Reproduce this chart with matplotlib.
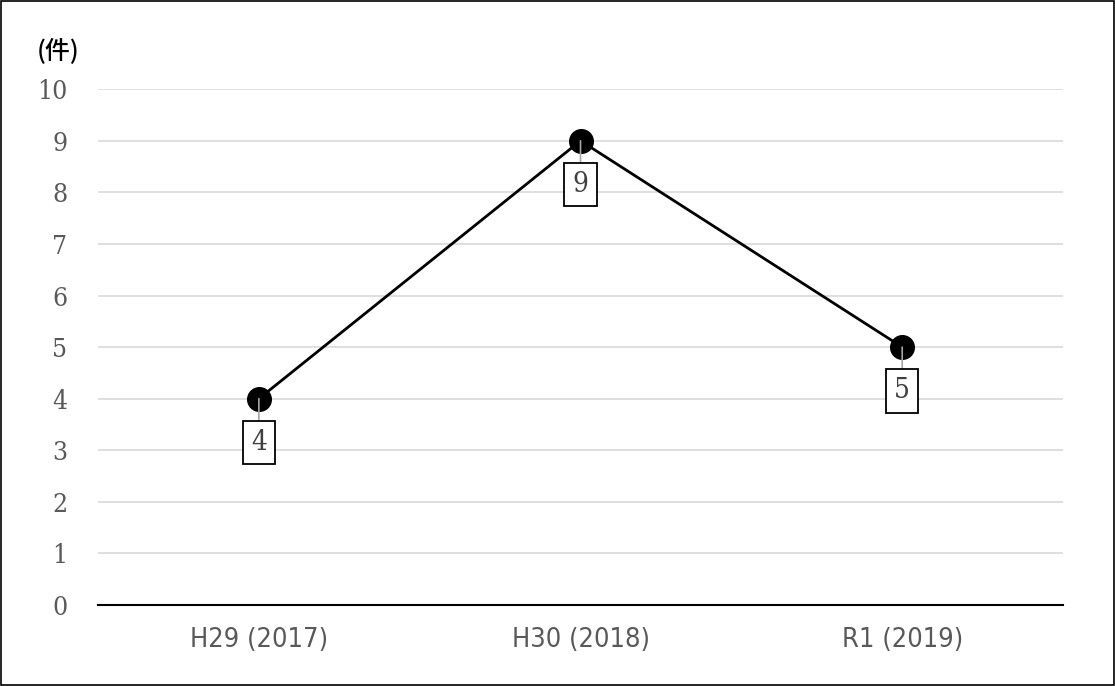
import matplotlib.pyplot as plt
from matplotlib.patches import Rectangle

years = ["H29 (2017)", "H30 (2018)", "R1 (2019)"]
counts = [4, 9, 5]

fig = plt.figure(figsize=(11.15, 6.86), dpi=100)
ax = fig.add_axes([0.0879, 0.118, 0.8655, 0.752])

x = range(len(years))
ax.plot(x, counts, "-", color="black", linewidth=2, marker="o",
        markersize=17, markerfacecolor="black", zorder=3)

for i, c in zip(x, counts):
    ax.annotate(str(c), xy=(i, c), xytext=(i, c - 0.85),
                ha="center", va="center", fontsize=20, family="DejaVu Serif",
                fontstretch="condensed", color="#404040",
                bbox=dict(boxstyle="square,pad=0.3", fc="white", ec="black", lw=1.3),
                arrowprops=dict(arrowstyle="-", color="#a6a6a6", lw=1.2,
                                shrinkA=0, shrinkB=0), zorder=4)

ax.set_xlim(-0.5, 2.5)
ax.set_ylim(0, 10)
ax.set_yticks(range(0, 11))
ax.set_xticks(list(x))
ax.set_xticklabels(years, family="DejaVu Sans", fontstretch="condensed",
                   fontsize=19.5, color="#595959", weight="medium")
for lab in ax.get_yticklabels():
    lab.set_family("DejaVu Serif")
    lab.set_fontstretch("condensed")
    lab.set_fontsize(19)
    lab.set_color("#595959")
ax.tick_params(axis="both", length=0)
ax.tick_params(axis="y", pad=22)
ax.tick_params(axis="x", pad=16)
ax.grid(axis="y", color="#d9d9d9", linewidth=1.2)
ax.set_axisbelow(True)
for s in ["top", "right", "left"]:
    ax.spines[s].set_visible(False)
ax.spines["bottom"].set_linewidth(1.5)
ax.spines["bottom"].set_zorder(5)

fig.text(0.033, 0.924, "(件)", fontsize=18, family=["Noto Sans CJK JP", "DejaVu Sans"],
         color="black", va="center", weight="medium")

fig.patches.append(Rectangle((0.001, 0.001), 0.998, 0.998, transform=fig.transFigure,
                             fill=False, edgecolor="black", linewidth=1.2))

fig.savefig("out.png", dpi=100)
